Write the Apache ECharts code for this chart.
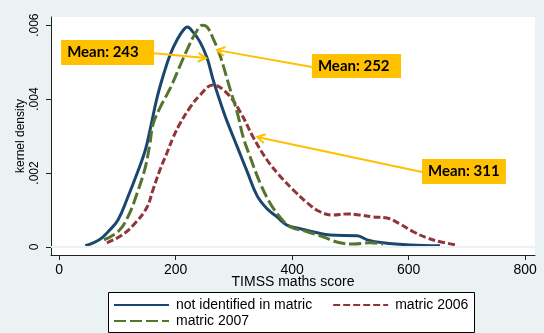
<!DOCTYPE html>
<html>
<head>
<meta charset="utf-8">
<script src="https://cdn.jsdelivr.net/npm/echarts@6/dist/echarts.min.js"></script>
<style>
  html, body { margin: 0; padding: 0; background: #eaf2f3; }
  #main { width: 544px; height: 333px; }
</style>
</head>
<body>
<div id="main"></div>
<script>
// kernel density estimates
const seriesNames = ['not identified in matric', 'matric 2006', 'matric 2007'];

const notIdentX = [45, 69, 84, 101, 118, 136, 148, 156, 168, 179, 191, 203, 213, 220, 230, 242, 254, 264, 276, 288, 306, 323, 340, 357, 374, 391, 414, 443, 465, 512, 529, 556, 603, 654];
const notIdentY = [0.00003, 0.00019, 0.00041, 0.00073, 0.00135, 0.00208, 0.00262, 0.00316, 0.00403, 0.00465, 0.00522, 0.00562, 0.00586, 0.00595, 0.00581, 0.00554, 0.00511, 0.00454, 0.00395, 0.00341, 0.00270, 0.00203, 0.00138, 0.00103, 0.00081, 0.00059, 0.00049, 0.00038, 0.00032, 0.00030, 0.00019, 0.00011, 0.00005, 0.00003];

const matric2006X = [82, 108, 131, 151, 161, 173, 185, 196, 208, 225, 242, 264, 288, 311, 333, 357, 379, 402, 426, 448, 470, 494, 517, 539, 563, 585, 608, 632, 654, 683];
const matric2006Y = [0.00011, 0.00032, 0.00065, 0.00108, 0.00154, 0.00208, 0.00254, 0.00297, 0.00335, 0.00378, 0.00411, 0.00438, 0.00416, 0.00365, 0.00297, 0.00235, 0.00192, 0.00154, 0.00119, 0.00095, 0.00086, 0.00089, 0.00086, 0.00081, 0.00078, 0.00062, 0.00041, 0.00024, 0.00014, 0.00005];

const matric2007X = [77, 101, 118, 134, 148, 156, 161, 173, 191, 208, 221, 234, 246, 254, 264, 276, 294, 306, 316, 328, 345, 362, 379, 397, 426, 453, 482, 505, 534, 556];
const matric2007Y = [0.00019, 0.00041, 0.00081, 0.00146, 0.00216, 0.00281, 0.00330, 0.00376, 0.00430, 0.00492, 0.00538, 0.00578, 0.00600, 0.00595, 0.00565, 0.00519, 0.00424, 0.00362, 0.00297, 0.00243, 0.00173, 0.00119, 0.00081, 0.00054, 0.00041, 0.00027, 0.00011, 0.00008, 0.00011, 0.00008];

const xTicks = [0, 200, 400, 600, 800];
const yTicks = [0, 0.002, 0.004, 0.006];
const yTickLabels = ['0', '.002', '.004', '.006'];

// mean call-outs, in data units: box [x0, yTop, x1, yBottom], arrow tail and tip
const annoLabels = ['Mean: 243', 'Mean: 252', 'Mean: 311'];
const annoBoxes = [[3.4, 0.005595, 163, 0.004919], [434, 0.005216, 587, 0.004568], [623, 0.002378, 767, 0.001703]];
const annoTails = [[163, 0.00524], [434, 0.004865], [623, 0.002027]];
const annoTips = [[252, 0.00511], [271, 0.005324], [340, 0.002973]];

function zip(xs, ys) {
  return xs.map((x, i) => [x, ys[i]]);
}

const chart = echarts.init(document.getElementById('main'));

const axisFont = 'Liberation Sans, Arial, sans-serif';

const legendBase = {
  itemWidth: 55,
  itemHeight: 14,
  padding: 0,
  z: 5,
  itemStyle: { opacity: 0 },
  textStyle: { color: '#000', fontSize: 14, fontFamily: axisFont, padding: [0, 0, 0, 2] }
};

const option = {
  backgroundColor: '#eaf2f3',
  animation: false,
  grid: {
    left: 51,
    right: 9,
    top: 17,
    bottom: 78,
    show: true,
    backgroundColor: '#ffffff',
    borderWidth: 0
  },
  xAxis: {
    type: 'value',
    min: -14,
    max: 817,
    name: 'TIMSS maths score',
    nameLocation: 'middle',
    nameGap: 20,
    nameMoveOverlap: false,
    nameTextStyle: { color: '#000', fontSize: 14, fontFamily: axisFont, verticalAlign: 'top' },
    axisLine: { onZero: false, lineStyle: { color: '#222', width: 1 } },
    axisTick: { customValues: xTicks, length: 5, lineStyle: { color: '#222' } },
    axisLabel: { customValues: xTicks, color: '#000', fontSize: 14, fontFamily: axisFont, margin: 8 },
    splitLine: { show: false }
  },
  yAxis: {
    type: 'value',
    min: -0.00022,
    max: 0.00622,
    name: 'kernel density',
    nameLocation: 'middle',
    nameGap: 24,
    nameMoveOverlap: false,
    nameTextStyle: { color: '#000', fontSize: 12, fontFamily: axisFont },
    axisLine: { show: true, onZero: false, lineStyle: { color: '#222', width: 1 } },
    axisTick: { show: true, customValues: yTicks, length: 5, lineStyle: { color: '#222' } },
    axisLabel: {
      customValues: yTicks,
      rotate: 90,
      color: '#000',
      fontSize: 12,
      fontFamily: axisFont,
      margin: 10,
      formatter: v => yTickLabels[yTicks.indexOf(v)] ?? ''
    },
    splitLine: { show: false }
  },
  legend: [
    Object.assign({}, legendBase, { data: [seriesNames[0], seriesNames[1]], left: 113, top: 298, itemGap: 20 }),
    Object.assign({}, legendBase, { data: [seriesNames[2]], left: 113, top: 314 })
  ],
  series: [
    {
      // faint horizontal grid lines at the y ticks
      type: 'line',
      data: [],
      z: 1,
      silent: true,
      markLine: {
        silent: true,
        symbol: 'none',
        label: { show: false },
        lineStyle: { color: '#eaf2f3', type: 'solid', width: 1.5 },
        data: yTicks.map(v => ({ yAxis: v }))
      }
    },
    {
      name: seriesNames[0],
      type: 'line',
      data: zip(notIdentX, notIdentY),
      smooth: 0.4,
      symbol: 'none',
      lineStyle: { color: '#1a476f', width: 3, type: 'solid' },
      itemStyle: { color: '#1a476f' }
    },
    {
      name: seriesNames[1],
      type: 'line',
      data: zip(matric2006X, matric2006Y),
      smooth: 0.4,
      symbol: 'none',
      lineStyle: { color: '#90353b', width: 3, type: [7, 3] },
      itemStyle: { color: '#90353b' }
    },
    {
      name: seriesNames[2],
      type: 'line',
      data: zip(matric2007X, matric2007Y),
      smooth: 0.4,
      symbol: 'none',
      lineStyle: { color: '#55752f', width: 3, type: [12, 4] },
      itemStyle: { color: '#55752f' }
    }
  ]
};

chart.setOption(option);

// legend frame + mean call-outs, placed from data coordinates
const px = p => chart.convertToPixel({ gridIndex: 0 }, p);
const graphics = [
  {
    type: 'rect',
    z: 1,
    shape: { x: 108.5, y: 292.5, width: 366, height: 40 },
    style: { fill: '#ffffff', stroke: '#000', lineWidth: 1 }
  }
];
annoLabels.forEach((label, i) => {
  const b = annoBoxes[i];
  const tl = px([b[0], b[1]]);
  const br = px([b[2], b[3]]);
  graphics.push({
    type: 'rect',
    z: 10,
    shape: { x: tl[0], y: tl[1], width: br[0] - tl[0], height: br[1] - tl[1] },
    style: { fill: '#ffc000' }
  });
  graphics.push({
    type: 'text',
    z: 11,
    x: tl[0] + 6,
    y: (tl[1] + br[1]) / 2,
    style: {
      text: label,
      fill: '#000',
      font: 'bold 15px Lato, sans-serif',
      verticalAlign: 'middle'
    }
  });
  const t = px(annoTails[i]);
  const h = px(annoTips[i]);
  graphics.push({
    type: 'line',
    z: 10,
    shape: { x1: t[0], y1: t[1], x2: h[0], y2: h[1] },
    style: { stroke: '#ffc000', lineWidth: 2 }
  });
  const dx = t[0] - h[0], dy = t[1] - h[1];
  const len = Math.sqrt(dx * dx + dy * dy);
  const ux = dx / len, uy = dy / len;
  const a = Math.PI / 6, L = 9;
  const p1 = [h[0] + L * (ux * Math.cos(a) - uy * Math.sin(a)), h[1] + L * (ux * Math.sin(a) + uy * Math.cos(a))];
  const p2 = [h[0] + L * (ux * Math.cos(-a) - uy * Math.sin(-a)), h[1] + L * (ux * Math.sin(-a) + uy * Math.cos(-a))];
  graphics.push({
    type: 'polyline',
    z: 10,
    shape: { points: [p1, h, p2] },
    style: { stroke: '#ffc000', lineWidth: 2, fill: null }
  });
});
chart.setOption({ graphic: graphics });
</script>
</body>
</html>
